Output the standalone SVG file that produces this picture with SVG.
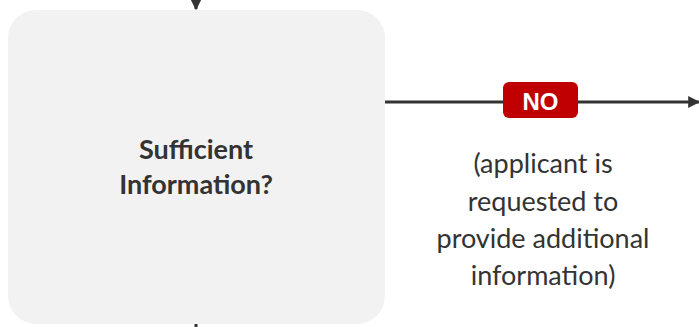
<svg xmlns="http://www.w3.org/2000/svg" width="699" height="327" viewBox="0 0 699 327">
<defs>
<style>
.node{fill:#f2f2f2}
.t{font-family:"Lato","Open Sans",sans-serif;fill:#333333;text-anchor:middle}
.b{font-weight:bold;font-size:27px}
.n{font-size:27px}
.ln{stroke:#333333;stroke-width:3;fill:none}
</style>
<marker id="ah" viewBox="0 0 10 10" refX="9" refY="5" markerWidth="4" markerHeight="4" orient="auto" markerUnits="strokeWidth"><path d="M0,0 L10,5 L0,10 z" fill="#333333"/></marker>
</defs>
<g id="connectors">
<line class="ln" x1="196" y1="-5" x2="196" y2="9" marker-end="url(#ah)"/>
<line class="ln" x1="196" y1="322" x2="196" y2="330"/>
<line class="ln" x1="385" y1="102" x2="699" y2="102" marker-end="url(#ah)"/>
</g>
<g id="decision">
<rect class="node" x="8" y="10" width="377" height="314" rx="28"/>
<text class="t b" x="196" y="159">Sufficient</text>
<text class="t b" x="196" y="194">Information?</text>
</g>
<g id="label-no">
<rect x="503" y="82" width="75" height="36" rx="6" fill="#c00000"/>
<text x="540.5" y="109.5" font-family="Liberation Sans, Arial, sans-serif" font-weight="bold" font-size="24" fill="#ffffff" text-anchor="middle">NO</text>
</g>
<g id="note">
<text class="t n" x="543" y="173">(applicant is</text>
<text class="t n" x="543" y="211">requested to</text>
<text class="t n" x="543" y="248">provide additional</text>
<text class="t n" x="543" y="285">information)</text>
</g>
</svg>
